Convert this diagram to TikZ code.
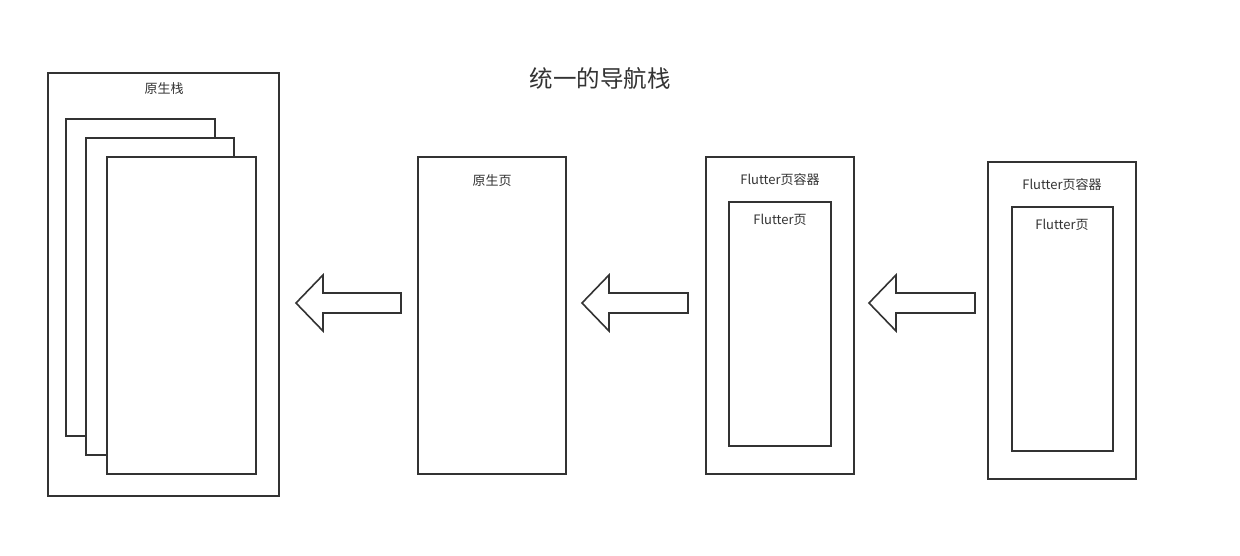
\documentclass[tikz,border=0pt]{standalone}
\usepackage{fontspec}
\setmainfont{Noto Sans CJK SC}
\definecolor{ln}{HTML}{333333}
\begin{document}
\begin{tikzpicture}[x=1pt,y=-1pt,
  box/.style={draw=ln,line width=1.6pt,fill=white},
  lbl/.style={text=ln,font=\fontsize{13}{15}\selectfont,inner sep=0pt},
  arr/.style={draw=ln,line width=1.6pt,fill=white,line join=miter}]
\useasboundingbox[fill=white] (0,0) rectangle (1240,556);
% left stack
\draw[box] (48,73) rectangle (279,496);
\node[lbl] (stk) at (164,89) {原生栈};
\draw[box] (66,119) rectangle (215,436);
\draw[box] (86,138) rectangle (234,455);
\draw[box] (107,157) rectangle (256,474);
% title
\node[text=ln,font=\fontsize{23.5}{28}\selectfont,inner sep=0pt] (title) at (600,79) {统一的导航栈};
% native page
\draw[box] (418,157) rectangle (566,474);
\node[lbl] (np) at (492,181) {原生页};
% flutter container 1
\draw[box] (706,157) rectangle (854,474);
\node[lbl] (fc1) at (780,180) {Flutter页容器};
\draw[box] (729,202) rectangle (831,446);
\node[lbl] (fp1) at (780,220) {Flutter页};
% flutter container 2
\draw[box] (988,162) rectangle (1136,479);
\node[lbl] (fc2) at (1062,185) {Flutter页容器};
\draw[box] (1012,207) rectangle (1113,451);
\node[lbl] (fp2) at (1062,225) {Flutter页};
% arrows
\foreach \t/\r in {296/401, 582/688, 869/975}{
  \draw[arr] (\t,303) -- (\t+27,275) -- (\t+27,293) -- (\r,293) -- (\r,313) -- (\t+27,313) -- (\t+27,331) -- cycle;
}
\end{tikzpicture}
\end{document}
